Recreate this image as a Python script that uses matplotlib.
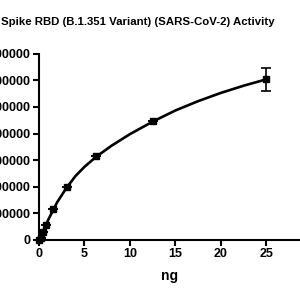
import matplotlib
matplotlib.use("Agg")
import matplotlib.pyplot as plt
import numpy as np

# measured points (ng vs signal)
ng = [0, 0.195, 0.39, 0.78, 1.5625, 3.125, 6.25, 12.5, 25]
signal = [0, 80000, 300000, 560000, 1150000, 2000000, 3160000, 4470000, 6040000]
sd = [0, 0, 0, 0, 0, 0, 0, 0, 440000]

# fitted curve
fit_x = [0, 0.5, 1, 2, 3, 4, 5, 6.25, 8, 10, 12.5, 15, 17.5, 20, 22.5, 25]
fit_y = [0, 370000, 750000, 1420000, 1950000, 2400000, 2750000, 3120000,
         3550000, 3980000, 4450000, 4870000, 5220000, 5530000, 5800000, 6040000]

yticks = [0, 1000000, 2000000, 3000000, 4000000, 5000000, 6000000, 7000000]
xticks = [0, 5, 10, 15, 20, 25]

plt.rcParams['font.family'] = ['Liberation Sans', 'DejaVu Sans']

fig = plt.figure(figsize=(3, 3), dpi=100)
ax = fig.add_axes([0.13, 0.2, 0.87, 0.6207])

ax.plot(fit_x, fit_y, color='black', lw=1.9, clip_on=False, zorder=2)
ax.errorbar(ng, signal, yerr=sd, fmt='none', ecolor='black',
            elinewidth=1.2, capsize=3.5, capthick=1.2, clip_on=False, zorder=3)
ax.plot(ng, signal, 's', color='black', ms=5, clip_on=False, zorder=4)

ax.set_xlim(0, 28.7)
ax.set_ylim(0, 7000000)
ax.set_xticks(xticks)
ax.set_yticks(yticks)
ax.set_yticklabels([str(v) for v in yticks])
for sp in ['top', 'right']:
    ax.spines[sp].set_visible(False)
for sp in ['left', 'bottom']:
    ax.spines[sp].set_linewidth(1.5)
ax.tick_params(width=1.5, length=4, pad=2, labelsize=9)
for lab in ax.get_xticklabels() + ax.get_yticklabels():
    lab.set_fontweight('bold')
ax.set_xlabel('ng', fontsize=10, fontweight='bold', labelpad=6)

fig.text(275 / 300, 1 - 22 / 300,
         'Spike RBD (B.1.351 Variant) (SARS-CoV-2) Activity',
         ha='right', va='center', fontsize=8.2, fontweight='bold')

fig.savefig('out.png', dpi=100)
